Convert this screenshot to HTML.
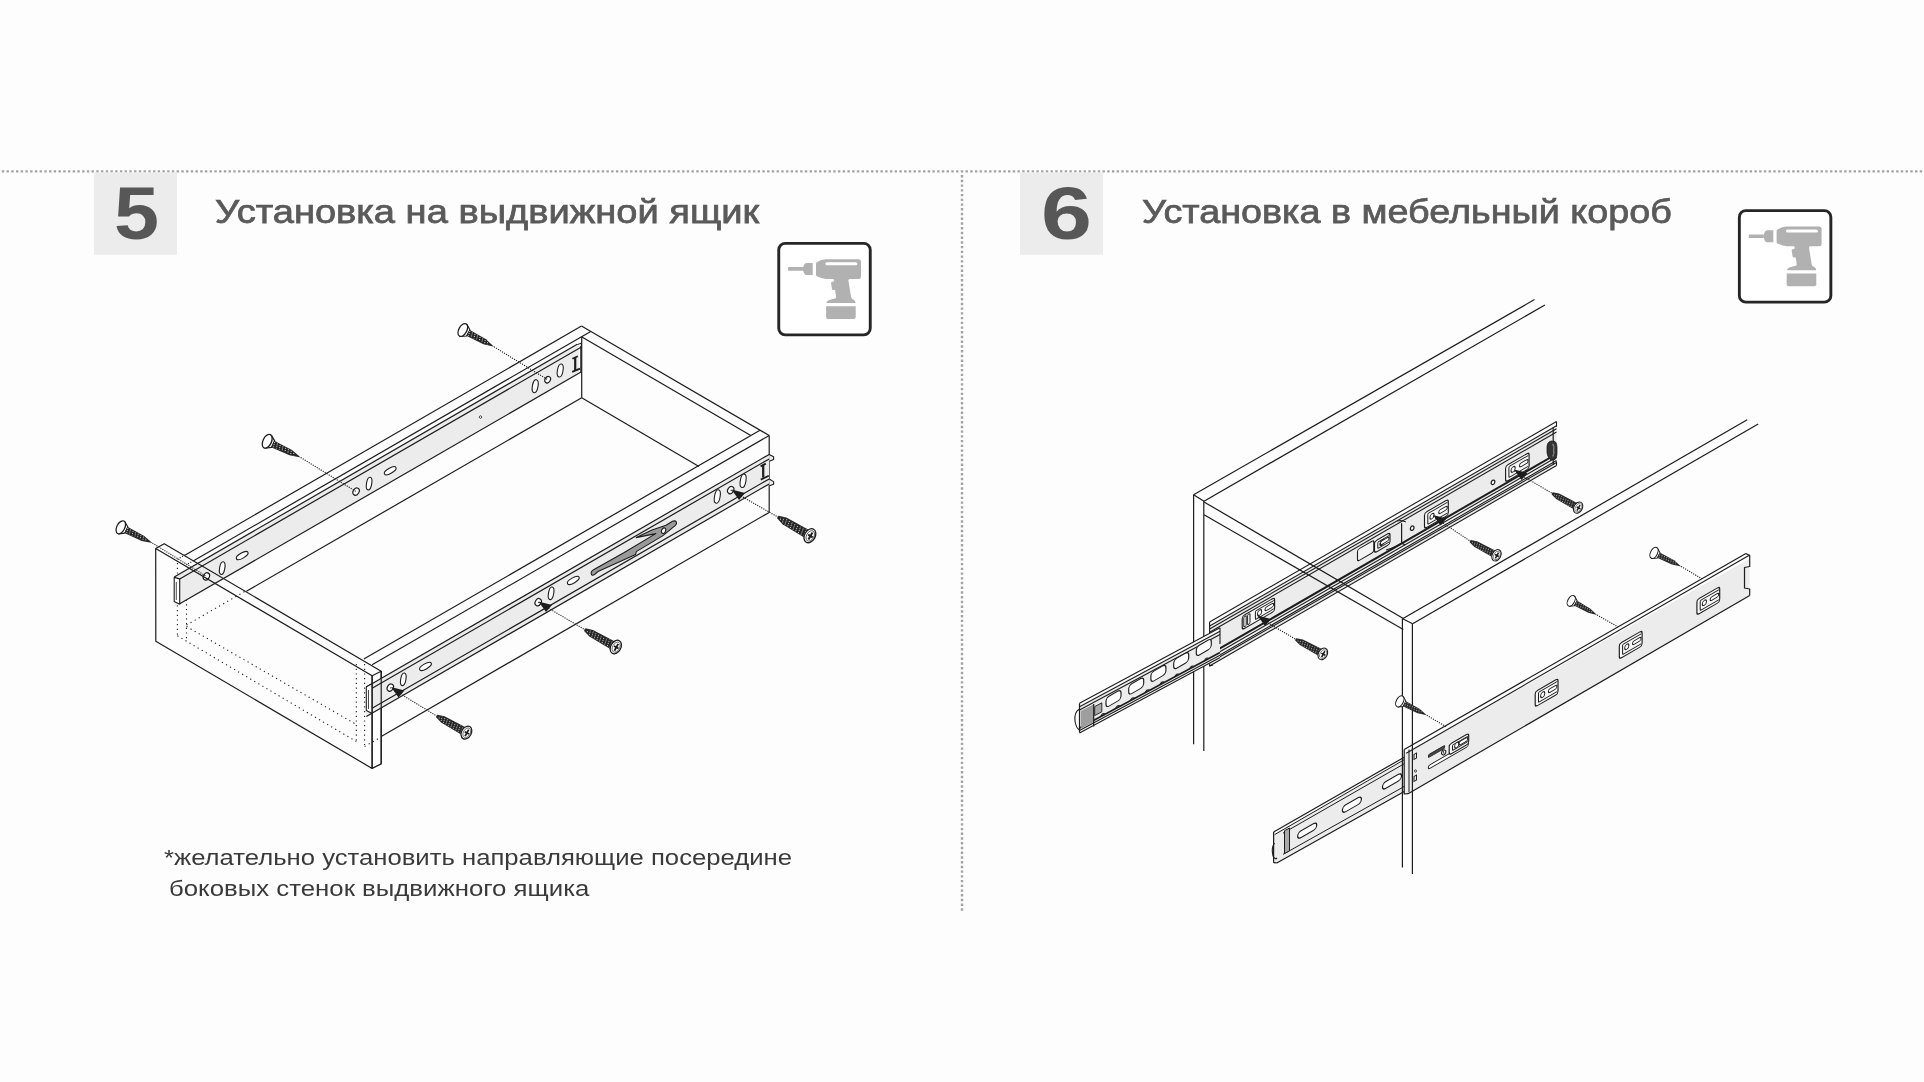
<!DOCTYPE html>
<html><head><meta charset="utf-8"><style>
html,body{margin:0;padding:0;background:#fdfdfd;}
body{width:1924px;height:1082px;position:relative;overflow:hidden;font-family:"Liberation Sans",sans-serif;}
svg{position:absolute;left:0;top:0;}
.num{position:absolute;will-change:transform;font-weight:bold;color:#575757;font-size:75px;line-height:75px;transform-origin:0 0;}
.ttl{position:absolute;will-change:transform;font-weight:normal;-webkit-text-stroke:0.75px #5a5a5a;color:#5a5a5a;font-size:33.5px;line-height:34px;white-space:nowrap;transform-origin:0 0;}
.note{position:absolute;color:#3a3a3a;will-change:transform;font-size:22px;line-height:30.8px;white-space:pre;transform-origin:0 0;}
</style></head><body>
<svg width="1924" height="1082" viewBox="0 0 1924 1082" shape-rendering="geometricPrecision">
<line x1="1.8" y1="171.4" x2="1924" y2="171.4" stroke="#a3a3a3" stroke-width="2.4" stroke-dasharray="2.4 2.324"/>
<line x1="962" y1="175.0" x2="962" y2="911" stroke="#a3a3a3" stroke-width="2.4" stroke-dasharray="2.4 2.331"/>
<rect x="94" y="172.5" width="83" height="82.3" fill="#ebeceb"/>
<rect x="1020" y="172.5" width="83" height="82.3" fill="#ebeceb"/>
<g transform="translate(777.3,241.9)"><rect x="1.45" y="1.45" width="91.5" height="91.5" rx="6.5" ry="6.5" fill="#fff" stroke="#262626" stroke-width="2.9"/><rect x="10.8" y="25.2" width="14.9" height="3.7" rx="0.6" fill="#b0b1b0"/><path d="M25.4,26.2 L27,22.6 Q27.8,21.1 29.3,21.1 L35.4,21.1 L35.4,33.0 L29.3,33.0 Q27.8,33.0 27,31.5 L25.4,27.9 Z" fill="#b0b1b0"/><path d="M38.7,21.6 Q38.7,20.6 40,20 Q44,17.7 48.5,17.3 L81.2,17.3 Q83.7,17.3 83.7,19.8 L83.7,34.5 Q83.7,37.0 81.2,37.0 L72.3,37.0 Q70.9,37.3 71.1,38.6 L73.8,55.2 Q74.2,56.6 75.5,57.3 Q77.7,58.3 78.2,59.9 L78.2,61.0 L49.1,61.0 Q49.1,59.4 51,58.6 Q54.5,57.3 57.9,56.6 Q58.9,56.2 58.8,55.1 L57.8,48.2 L55.6,48.2 Q54.9,48.2 54.7,47.4 L53.7,40.5 L56.2,39.6 Q57,39.3 56.8,38.5 L56.2,37.0 L48.5,37.0 Q44,36.6 40,34.6 Q38.7,34.0 38.7,32.8 Z" fill="#b0b1b0"/><rect x="48.1" y="20.3" width="32" height="3.1" rx="1.5" fill="#fff"/><path d="M48.8,64.3 L78.4,64.3 L78.4,75.0 Q78.4,77.0 76.4,77.0 L50.8,77.0 Q48.8,77.0 48.8,75.0 Z" fill="#b0b1b0"/></g>
<g transform="translate(1737.9,209.2)"><rect x="1.45" y="1.45" width="91.5" height="91.5" rx="6.5" ry="6.5" fill="#fff" stroke="#262626" stroke-width="2.9"/><rect x="10.8" y="25.2" width="14.9" height="3.7" rx="0.6" fill="#b0b1b0"/><path d="M25.4,26.2 L27,22.6 Q27.8,21.1 29.3,21.1 L35.4,21.1 L35.4,33.0 L29.3,33.0 Q27.8,33.0 27,31.5 L25.4,27.9 Z" fill="#b0b1b0"/><path d="M38.7,21.6 Q38.7,20.6 40,20 Q44,17.7 48.5,17.3 L81.2,17.3 Q83.7,17.3 83.7,19.8 L83.7,34.5 Q83.7,37.0 81.2,37.0 L72.3,37.0 Q70.9,37.3 71.1,38.6 L73.8,55.2 Q74.2,56.6 75.5,57.3 Q77.7,58.3 78.2,59.9 L78.2,61.0 L49.1,61.0 Q49.1,59.4 51,58.6 Q54.5,57.3 57.9,56.6 Q58.9,56.2 58.8,55.1 L57.8,48.2 L55.6,48.2 Q54.9,48.2 54.7,47.4 L53.7,40.5 L56.2,39.6 Q57,39.3 56.8,38.5 L56.2,37.0 L48.5,37.0 Q44,36.6 40,34.6 Q38.7,34.0 38.7,32.8 Z" fill="#b0b1b0"/><rect x="48.1" y="20.3" width="32" height="3.1" rx="1.5" fill="#fff"/><path d="M48.8,64.3 L78.4,64.3 L78.4,75.0 Q78.4,77.0 76.4,77.0 L50.8,77.0 Q48.8,77.0 48.8,75.0 Z" fill="#b0b1b0"/></g>
<line x1="177.4" y1="563" x2="177.4" y2="637.5" stroke="#1e1e1e" stroke-width="1.1" stroke-dasharray="1.2 3.5"/>
<line x1="186.5" y1="576" x2="186.5" y2="640" stroke="#1e1e1e" stroke-width="1.1" stroke-dasharray="1.2 3.5"/>
<line x1="177.4" y1="635.8" x2="356.3" y2="741.5" stroke="#1e1e1e" stroke-width="1.1" stroke-dasharray="1.2 3.5"/>
<line x1="186.5" y1="626.5" x2="356.3" y2="724.5" stroke="#1e1e1e" stroke-width="1.1" stroke-dasharray="1.2 3.5"/>
<line x1="356.3" y1="664" x2="356.3" y2="742.5" stroke="#1e1e1e" stroke-width="1.1" stroke-dasharray="1.2 3.5"/>
<line x1="364.6" y1="664" x2="364.6" y2="746.5" stroke="#1e1e1e" stroke-width="1.1" stroke-dasharray="1.2 3.5"/>
<line x1="186.5" y1="625.1" x2="246.4" y2="590.5" stroke="#1e1e1e" stroke-width="1.1" stroke-dasharray="1.2 3.5"/>
<line x1="364.6" y1="746.5" x2="381" y2="737" stroke="#1e1e1e" stroke-width="1.1" stroke-dasharray="1.2 3.5"/>
<line x1="185.3" y1="554.7" x2="177.4" y2="559.3" stroke="#1e1e1e" stroke-width="1.1" stroke-dasharray="1.1 1.6"/>
<line x1="193.6" y1="560.5" x2="186.2" y2="564.8" stroke="#1e1e1e" stroke-width="1.1" stroke-dasharray="1.1 1.6"/>
<line x1="581.5" y1="326.1" x2="769.2" y2="435.5" stroke="#1c1c1c" stroke-width="1.2" />
<line x1="581.5" y1="336.7" x2="750.8" y2="435.5" stroke="#1c1c1c" stroke-width="1.2" />
<line x1="581.7" y1="397.7" x2="699" y2="466.5" stroke="#1c1c1c" stroke-width="1.2" />
<line x1="581.7" y1="336.7" x2="581.7" y2="397.7" stroke="#1c1c1c" stroke-width="1.2" />
<line x1="185.3" y1="554.9" x2="581.5" y2="326.1" stroke="#1c1c1c" stroke-width="1.2" />
<line x1="193.6" y1="560.7" x2="590.7" y2="331.4" stroke="#1c1c1c" stroke-width="1.2" />
<line x1="246.4" y1="591.3" x2="581.7" y2="397.7" stroke="#1c1c1c" stroke-width="1.2" />
<line x1="372.1" y1="664.8" x2="769.2" y2="435.5" stroke="#1c1c1c" stroke-width="1.2" />
<line x1="363.8" y1="659" x2="760" y2="430.2" stroke="#1c1c1c" stroke-width="1.2" />
<line x1="769.2" y1="435.5" x2="769.2" y2="512.4" stroke="#1c1c1c" stroke-width="1.2" />
<line x1="381.2" y1="736.4" x2="769.2" y2="512.4" stroke="#1c1c1c" stroke-width="1.2" />
<polygon points="174.5,576.8 579,343.3 579,373.3 174.5,606.8" fill="#ebeceb" stroke="none"/>
<line x1="174.2" y1="577" x2="577.3" y2="344.2" stroke="#1c1c1c" stroke-width="1.2" />
<line x1="179.7" y1="578.9" x2="581" y2="347.2" stroke="#1c1c1c" stroke-width="1.2" />
<line x1="179.7" y1="603.8" x2="581" y2="372.1" stroke="#1c1c1c" stroke-width="1.2" />
<polygon points="174.2,577.4 174.2,601.5 179.7,604.2 179.7,578.9" fill="#fff" stroke="#1c1c1c" stroke-width="1.1" stroke-linejoin="round" />
<line x1="176.3" y1="582" x2="176.3" y2="600" stroke="#1c1c1c" stroke-width="0.8" />
<line x1="580.8" y1="346" x2="580.8" y2="372.5" stroke="#1c1c1c" stroke-width="1.1" />
<polyline points="577.3,344.6 581.3,343.2 581.3,346.9" fill="none" stroke="#1c1c1c" stroke-width="1.0" stroke-linejoin="round" />
<line x1="575.2" y1="357.6" x2="575.2" y2="370.6" stroke="#1c1c1c" stroke-width="2.2" />
<line x1="572.4" y1="358.8" x2="577.8" y2="356.2" stroke="#1c1c1c" stroke-width="1.8" />
<line x1="572.2" y1="371.8" x2="580" y2="368.6" stroke="#1c1c1c" stroke-width="1.8" />
<ellipse cx="206.4" cy="576.4" rx="2.9" ry="3.8" transform="rotate(30 206.4 576.4)" fill="#fff" stroke="#1c1c1c" stroke-width="1.2"/>
<ellipse cx="222.2" cy="568.1" rx="2.6" ry="6.4" transform="rotate(10 222.2 568.1)" fill="#fff" stroke="#1c1c1c" stroke-width="1.1"/>
<ellipse cx="242.2" cy="555.6" rx="6.6" ry="2.6" transform="rotate(-30 242.2 555.6)" fill="#fff" stroke="#1c1c1c" stroke-width="1.1"/>
<ellipse cx="356.1" cy="491.6" rx="2.9" ry="3.8" transform="rotate(30 356.1 491.6)" fill="#fff" stroke="#1c1c1c" stroke-width="1.2"/>
<ellipse cx="369.1" cy="483.6" rx="2.6" ry="6.4" transform="rotate(10 369.1 483.6)" fill="#fff" stroke="#1c1c1c" stroke-width="1.1"/>
<ellipse cx="390.2" cy="470.8" rx="6.6" ry="2.6" transform="rotate(-30 390.2 470.8)" fill="#fff" stroke="#1c1c1c" stroke-width="1.1"/>
<ellipse cx="547.7" cy="379.7" rx="2.6" ry="3.4" transform="rotate(30 547.7 379.7)" fill="#fff" stroke="#1c1c1c" stroke-width="1.2"/>
<ellipse cx="560.2" cy="370.5" rx="2.8" ry="6.6" transform="rotate(10 560.2 370.5)" fill="#fff" stroke="#1c1c1c" stroke-width="1.1"/>
<ellipse cx="535.2" cy="386.2" rx="2.8" ry="6.6" transform="rotate(10 535.2 386.2)" fill="#fff" stroke="#1c1c1c" stroke-width="1.1"/>
<ellipse cx="480.5" cy="417.1" rx="1.2" ry="1.2" transform="rotate(45 480.5 417.1)" fill="#fff" stroke="#1c1c1c" stroke-width="0.8"/>
<polygon points="155.7,548.5 372.1,675.7 372.1,768.4 155.8,641.3" fill="none" stroke="#1c1c1c" stroke-width="1.2" stroke-linejoin="round" />
<polyline points="155.7,548.5 164.2,543.7 381.2,671.2 372.1,675.7" fill="none" stroke="#1c1c1c" stroke-width="1.2" stroke-linejoin="round" />
<polyline points="381.2,671.2 381.2,763.9 372.1,768.4" fill="none" stroke="#1c1c1c" stroke-width="1.2" stroke-linejoin="round" />
<polygon points="366,687.2 769.2,454.4 769.2,483.9 366,716.7" fill="#ebeceb" stroke="none"/>
<line x1="366.3" y1="687" x2="769.2" y2="454.4" stroke="#1c1c1c" stroke-width="1.2" />
<line x1="372.1" y1="688.2" x2="769.2" y2="458.9" stroke="#1c1c1c" stroke-width="1.2" />
<line x1="372.1" y1="708.2" x2="769.2" y2="478.9" stroke="#1c1c1c" stroke-width="1.2" />
<line x1="366.3" y1="716.5" x2="769.2" y2="483.9" stroke="#1c1c1c" stroke-width="1.2" />
<polyline points="769.2,454.5 773.6,456.8 773.6,459.5 769.5,461.2" fill="#ebeceb" stroke="#1c1c1c" stroke-width="1.1" stroke-linejoin="round" />
<polyline points="769.2,479 773.6,481.6 773.6,484.2 769.5,485.8" fill="#ebeceb" stroke="#1c1c1c" stroke-width="1.1" stroke-linejoin="round" />
<line x1="763.2" y1="464.8" x2="763.2" y2="477.6" stroke="#1c1c1c" stroke-width="2.2" />
<line x1="760.6" y1="466.4" x2="765.8" y2="463.6" stroke="#1c1c1c" stroke-width="1.8" />
<line x1="760.8" y1="479.6" x2="768.8" y2="475.8" stroke="#1c1c1c" stroke-width="1.8" />
<polygon points="366.3,686.8 366.3,710.5 372.1,713.4 372.1,683.7" fill="#fff" stroke="#1c1c1c" stroke-width="1.1" stroke-linejoin="round" />
<line x1="368.5" y1="690" x2="368.5" y2="709" stroke="#1c1c1c" stroke-width="0.8" />
<line x1="372.1" y1="675.7" x2="372.1" y2="768.4" stroke="#1c1c1c" stroke-width="1.2" />
<line x1="381.2" y1="671.2" x2="381.2" y2="763.9" stroke="#1c1c1c" stroke-width="1.2" />
<ellipse cx="425.5" cy="666.4" rx="6.6" ry="2.6" transform="rotate(-30 425.5 666.4)" fill="#fff" stroke="#1c1c1c" stroke-width="1.1"/>
<ellipse cx="403.3" cy="679.3" rx="2.6" ry="6.4" transform="rotate(10 403.3 679.3)" fill="#fff" stroke="#1c1c1c" stroke-width="1.1"/>
<ellipse cx="390.3" cy="687.6" rx="2.9" ry="3.8" transform="rotate(30 390.3 687.6)" fill="#fff" stroke="#1c1c1c" stroke-width="1.2"/>
<ellipse cx="573.3" cy="580.4" rx="6.6" ry="2.6" transform="rotate(-30 573.3 580.4)" fill="#fff" stroke="#1c1c1c" stroke-width="1.1"/>
<ellipse cx="551.1" cy="593.3" rx="2.6" ry="6.4" transform="rotate(10 551.1 593.3)" fill="#fff" stroke="#1c1c1c" stroke-width="1.1"/>
<ellipse cx="538.2" cy="602.2" rx="2.9" ry="3.8" transform="rotate(30 538.2 602.2)" fill="#fff" stroke="#1c1c1c" stroke-width="1.2"/>
<ellipse cx="743.1" cy="480.8" rx="2.8" ry="6.8" transform="rotate(10 743.1 480.8)" fill="#fff" stroke="#1c1c1c" stroke-width="1.1"/>
<ellipse cx="717.3" cy="496.5" rx="2.8" ry="6.8" transform="rotate(10 717.3 496.5)" fill="#fff" stroke="#1c1c1c" stroke-width="1.1"/>
<ellipse cx="730.7" cy="490.1" rx="2.9" ry="3.8" transform="rotate(30 730.7 490.1)" fill="#fff" stroke="#1c1c1c" stroke-width="1.2"/>
<path d="M591.8,575 C590.3,573 591.3,570.6 594,569.5 L623.8,552.7 L655.8,533.6 L641,536.6 L636.3,537.6 L652,530 L666,525.2 L672.5,521.3 C676.8,519.8 677.4,523.2 675.4,525.3 L662.6,535.9 L636.3,551.6 L635.6,554.6 L598,571.5 C596,573.6 594,576 591.8,575 Z" fill="#9a9a9a" stroke="#1c1c1c" stroke-width="1.1" stroke-linejoin="round"/>
<ellipse cx="663.6" cy="530.7" rx="2.0" ry="2.9" transform="rotate(25 663.6 530.7)" fill="#fff" stroke="#1c1c1c" stroke-width="1.1"/>
<line x1="152.4" y1="543.1" x2="206.4" y2="576.4" stroke="#1e1e1e" stroke-width="1.1" stroke-dasharray="1.15 1.2"/>
<line x1="300.7" y1="457.5" x2="356.1" y2="491.6" stroke="#1e1e1e" stroke-width="1.1" stroke-dasharray="1.15 1.2"/>
<line x1="494" y1="346.8" x2="547.7" y2="379.7" stroke="#1e1e1e" stroke-width="1.1" stroke-dasharray="1.15 1.2"/>
<g transform="translate(120.8,527.3) rotate(26.6) scale(0.955)"><path d="M1.2,-7.1 L6.5,-3.6 L6.5,3.6 L1.2,7.1 Z" fill="#fff" stroke="#1c1c1c" stroke-width="1.2" stroke-linejoin="round"/><path d="M6,-3.6 L26,-2.9 L37,0 L26,2.9 L6,3.6 Z" fill="#262626"/><line x1="7.0" y1="-2.6" x2="8.2" y2="2.6" stroke="#fff" stroke-width="0.8" stroke-dasharray="1.1 1.1" opacity="0.9"/><line x1="10.1" y1="-2.5" x2="11.3" y2="2.5" stroke="#fff" stroke-width="0.8" stroke-dasharray="1.1 1.1" opacity="0.9"/><line x1="13.2" y1="-2.4" x2="14.4" y2="2.4" stroke="#fff" stroke-width="0.8" stroke-dasharray="1.1 1.1" opacity="0.9"/><line x1="16.3" y1="-2.3" x2="17.5" y2="2.3" stroke="#fff" stroke-width="0.8" stroke-dasharray="1.1 1.1" opacity="0.9"/><line x1="19.4" y1="-2.2" x2="20.6" y2="2.2" stroke="#fff" stroke-width="0.8" stroke-dasharray="1.1 1.1" opacity="0.9"/><line x1="22.5" y1="-2.1" x2="23.7" y2="2.1" stroke="#fff" stroke-width="0.8" stroke-dasharray="1.1 1.1" opacity="0.9"/><line x1="25.6" y1="-1.9" x2="26.8" y2="1.9" stroke="#fff" stroke-width="0.8" stroke-dasharray="1.1 1.1" opacity="0.9"/><line x1="28.7" y1="-1.1" x2="29.9" y2="1.1" stroke="#fff" stroke-width="0.8" stroke-dasharray="1.1 1.1" opacity="0.9"/><ellipse cx="0" cy="0" rx="4.2" ry="7.3" fill="#fff" stroke="#1c1c1c" stroke-width="1.3"/></g>
<g transform="translate(267.2,441.3) rotate(25.8) scale(1.006)"><path d="M1.2,-7.1 L6.5,-3.6 L6.5,3.6 L1.2,7.1 Z" fill="#fff" stroke="#1c1c1c" stroke-width="1.2" stroke-linejoin="round"/><path d="M6,-3.6 L26,-2.9 L37,0 L26,2.9 L6,3.6 Z" fill="#262626"/><line x1="7.0" y1="-2.6" x2="8.2" y2="2.6" stroke="#fff" stroke-width="0.8" stroke-dasharray="1.1 1.1" opacity="0.9"/><line x1="10.1" y1="-2.5" x2="11.3" y2="2.5" stroke="#fff" stroke-width="0.8" stroke-dasharray="1.1 1.1" opacity="0.9"/><line x1="13.2" y1="-2.4" x2="14.4" y2="2.4" stroke="#fff" stroke-width="0.8" stroke-dasharray="1.1 1.1" opacity="0.9"/><line x1="16.3" y1="-2.3" x2="17.5" y2="2.3" stroke="#fff" stroke-width="0.8" stroke-dasharray="1.1 1.1" opacity="0.9"/><line x1="19.4" y1="-2.2" x2="20.6" y2="2.2" stroke="#fff" stroke-width="0.8" stroke-dasharray="1.1 1.1" opacity="0.9"/><line x1="22.5" y1="-2.1" x2="23.7" y2="2.1" stroke="#fff" stroke-width="0.8" stroke-dasharray="1.1 1.1" opacity="0.9"/><line x1="25.6" y1="-1.9" x2="26.8" y2="1.9" stroke="#fff" stroke-width="0.8" stroke-dasharray="1.1 1.1" opacity="0.9"/><line x1="28.7" y1="-1.1" x2="29.9" y2="1.1" stroke="#fff" stroke-width="0.8" stroke-dasharray="1.1 1.1" opacity="0.9"/><ellipse cx="0" cy="0" rx="4.2" ry="7.3" fill="#fff" stroke="#1c1c1c" stroke-width="1.3"/></g>
<g transform="translate(462.8,330) rotate(28.3) scale(0.958)"><path d="M1.2,-7.1 L6.5,-3.6 L6.5,3.6 L1.2,7.1 Z" fill="#fff" stroke="#1c1c1c" stroke-width="1.2" stroke-linejoin="round"/><path d="M6,-3.6 L26,-2.9 L37,0 L26,2.9 L6,3.6 Z" fill="#262626"/><line x1="7.0" y1="-2.6" x2="8.2" y2="2.6" stroke="#fff" stroke-width="0.8" stroke-dasharray="1.1 1.1" opacity="0.9"/><line x1="10.1" y1="-2.5" x2="11.3" y2="2.5" stroke="#fff" stroke-width="0.8" stroke-dasharray="1.1 1.1" opacity="0.9"/><line x1="13.2" y1="-2.4" x2="14.4" y2="2.4" stroke="#fff" stroke-width="0.8" stroke-dasharray="1.1 1.1" opacity="0.9"/><line x1="16.3" y1="-2.3" x2="17.5" y2="2.3" stroke="#fff" stroke-width="0.8" stroke-dasharray="1.1 1.1" opacity="0.9"/><line x1="19.4" y1="-2.2" x2="20.6" y2="2.2" stroke="#fff" stroke-width="0.8" stroke-dasharray="1.1 1.1" opacity="0.9"/><line x1="22.5" y1="-2.1" x2="23.7" y2="2.1" stroke="#fff" stroke-width="0.8" stroke-dasharray="1.1 1.1" opacity="0.9"/><line x1="25.6" y1="-1.9" x2="26.8" y2="1.9" stroke="#fff" stroke-width="0.8" stroke-dasharray="1.1 1.1" opacity="0.9"/><line x1="28.7" y1="-1.1" x2="29.9" y2="1.1" stroke="#fff" stroke-width="0.8" stroke-dasharray="1.1 1.1" opacity="0.9"/><ellipse cx="0" cy="0" rx="4.2" ry="7.3" fill="#fff" stroke="#1c1c1c" stroke-width="1.3"/></g>
<line x1="730.7" y1="490.1" x2="777.4" y2="516.8" stroke="#1e1e1e" stroke-width="1.1" stroke-dasharray="1.15 1.2"/>
<line x1="538.2" y1="602.2" x2="584.4" y2="629.4" stroke="#1e1e1e" stroke-width="1.1" stroke-dasharray="1.15 1.2"/>
<line x1="390.3" y1="687.6" x2="436.3" y2="715.8" stroke="#1e1e1e" stroke-width="1.1" stroke-dasharray="1.15 1.2"/>
<g transform="translate(809.9,535.7) rotate(-149.8) scale(1.016)"><path d="M3,-4.5 L29,-3.8 L36.5,-1.5 Q37.3,0 36.5,1.5 L29,3.8 L3,4.5 Z" fill="#262626"/><line x1="5.0" y1="-3.6" x2="6.2" y2="3.6" stroke="#fff" stroke-width="0.8" stroke-dasharray="1.1 1.1" opacity="0.9"/><line x1="8.1" y1="-3.5" x2="9.3" y2="3.5" stroke="#fff" stroke-width="0.8" stroke-dasharray="1.1 1.1" opacity="0.9"/><line x1="11.2" y1="-3.4" x2="12.4" y2="3.4" stroke="#fff" stroke-width="0.8" stroke-dasharray="1.1 1.1" opacity="0.9"/><line x1="14.3" y1="-3.3" x2="15.5" y2="3.3" stroke="#fff" stroke-width="0.8" stroke-dasharray="1.1 1.1" opacity="0.9"/><line x1="17.4" y1="-3.2" x2="18.6" y2="3.2" stroke="#fff" stroke-width="0.8" stroke-dasharray="1.1 1.1" opacity="0.9"/><line x1="20.5" y1="-3.1" x2="21.7" y2="3.1" stroke="#fff" stroke-width="0.8" stroke-dasharray="1.1 1.1" opacity="0.9"/><line x1="23.6" y1="-3.0" x2="24.8" y2="3.0" stroke="#fff" stroke-width="0.8" stroke-dasharray="1.1 1.1" opacity="0.9"/><line x1="26.7" y1="-2.9" x2="27.9" y2="2.9" stroke="#fff" stroke-width="0.8" stroke-dasharray="1.1 1.1" opacity="0.9"/><line x1="29.8" y1="-2.3" x2="31.0" y2="2.3" stroke="#fff" stroke-width="0.8" stroke-dasharray="1.1 1.1" opacity="0.9"/><line x1="32.9" y1="-1.0" x2="34.1" y2="1.0" stroke="#fff" stroke-width="0.8" stroke-dasharray="1.1 1.1" opacity="0.9"/><ellipse cx="0" cy="0" rx="5.2" ry="7.4" fill="#fff" stroke="#1c1c1c" stroke-width="1.3"/><ellipse cx="-0.4" cy="0" rx="3.6" ry="5.6" fill="none" stroke="#1c1c1c" stroke-width="0.6"/><path d="M-0.6,-4 L-0.6,4 M-3.2,0 L2.0,0" stroke="#1c1c1c" stroke-width="1.9"/></g>
<g transform="translate(615.8,647) rotate(-150.7) scale(0.973)"><path d="M3,-4.5 L29,-3.8 L36.5,-1.5 Q37.3,0 36.5,1.5 L29,3.8 L3,4.5 Z" fill="#262626"/><line x1="5.0" y1="-3.6" x2="6.2" y2="3.6" stroke="#fff" stroke-width="0.8" stroke-dasharray="1.1 1.1" opacity="0.9"/><line x1="8.1" y1="-3.5" x2="9.3" y2="3.5" stroke="#fff" stroke-width="0.8" stroke-dasharray="1.1 1.1" opacity="0.9"/><line x1="11.2" y1="-3.4" x2="12.4" y2="3.4" stroke="#fff" stroke-width="0.8" stroke-dasharray="1.1 1.1" opacity="0.9"/><line x1="14.3" y1="-3.3" x2="15.5" y2="3.3" stroke="#fff" stroke-width="0.8" stroke-dasharray="1.1 1.1" opacity="0.9"/><line x1="17.4" y1="-3.2" x2="18.6" y2="3.2" stroke="#fff" stroke-width="0.8" stroke-dasharray="1.1 1.1" opacity="0.9"/><line x1="20.5" y1="-3.1" x2="21.7" y2="3.1" stroke="#fff" stroke-width="0.8" stroke-dasharray="1.1 1.1" opacity="0.9"/><line x1="23.6" y1="-3.0" x2="24.8" y2="3.0" stroke="#fff" stroke-width="0.8" stroke-dasharray="1.1 1.1" opacity="0.9"/><line x1="26.7" y1="-2.9" x2="27.9" y2="2.9" stroke="#fff" stroke-width="0.8" stroke-dasharray="1.1 1.1" opacity="0.9"/><line x1="29.8" y1="-2.3" x2="31.0" y2="2.3" stroke="#fff" stroke-width="0.8" stroke-dasharray="1.1 1.1" opacity="0.9"/><line x1="32.9" y1="-1.0" x2="34.1" y2="1.0" stroke="#fff" stroke-width="0.8" stroke-dasharray="1.1 1.1" opacity="0.9"/><ellipse cx="0" cy="0" rx="5.2" ry="7.4" fill="#fff" stroke="#1c1c1c" stroke-width="1.3"/><ellipse cx="-0.4" cy="0" rx="3.6" ry="5.6" fill="none" stroke="#1c1c1c" stroke-width="0.6"/><path d="M-0.6,-4 L-0.6,4 M-3.2,0 L2.0,0" stroke="#1c1c1c" stroke-width="1.9"/></g>
<g transform="translate(466.4,732.6) rotate(-150.8) scale(0.932)"><path d="M3,-4.5 L29,-3.8 L36.5,-1.5 Q37.3,0 36.5,1.5 L29,3.8 L3,4.5 Z" fill="#262626"/><line x1="5.0" y1="-3.6" x2="6.2" y2="3.6" stroke="#fff" stroke-width="0.8" stroke-dasharray="1.1 1.1" opacity="0.9"/><line x1="8.1" y1="-3.5" x2="9.3" y2="3.5" stroke="#fff" stroke-width="0.8" stroke-dasharray="1.1 1.1" opacity="0.9"/><line x1="11.2" y1="-3.4" x2="12.4" y2="3.4" stroke="#fff" stroke-width="0.8" stroke-dasharray="1.1 1.1" opacity="0.9"/><line x1="14.3" y1="-3.3" x2="15.5" y2="3.3" stroke="#fff" stroke-width="0.8" stroke-dasharray="1.1 1.1" opacity="0.9"/><line x1="17.4" y1="-3.2" x2="18.6" y2="3.2" stroke="#fff" stroke-width="0.8" stroke-dasharray="1.1 1.1" opacity="0.9"/><line x1="20.5" y1="-3.1" x2="21.7" y2="3.1" stroke="#fff" stroke-width="0.8" stroke-dasharray="1.1 1.1" opacity="0.9"/><line x1="23.6" y1="-3.0" x2="24.8" y2="3.0" stroke="#fff" stroke-width="0.8" stroke-dasharray="1.1 1.1" opacity="0.9"/><line x1="26.7" y1="-2.9" x2="27.9" y2="2.9" stroke="#fff" stroke-width="0.8" stroke-dasharray="1.1 1.1" opacity="0.9"/><line x1="29.8" y1="-2.3" x2="31.0" y2="2.3" stroke="#fff" stroke-width="0.8" stroke-dasharray="1.1 1.1" opacity="0.9"/><line x1="32.9" y1="-1.0" x2="34.1" y2="1.0" stroke="#fff" stroke-width="0.8" stroke-dasharray="1.1 1.1" opacity="0.9"/><ellipse cx="0" cy="0" rx="5.2" ry="7.4" fill="#fff" stroke="#1c1c1c" stroke-width="1.3"/><ellipse cx="-0.4" cy="0" rx="3.6" ry="5.6" fill="none" stroke="#1c1c1c" stroke-width="0.6"/><path d="M-0.6,-4 L-0.6,4 M-3.2,0 L2.0,0" stroke="#1c1c1c" stroke-width="1.9"/></g>
<path d="M731.5,489.5 L745,493 L739,500 Z" fill="#1c1c1c"/>
<path d="M538.5,601.5 L552,605 L546,612 Z" fill="#1c1c1c"/>
<path d="M391,687 L404.5,690.5 L398.5,697.5 Z" fill="#1c1c1c"/>
<line x1="1193.6" y1="494.8" x2="1534.5" y2="299.6" stroke="#1c1c1c" stroke-width="1.2" />
<line x1="1204" y1="501.2" x2="1544.9" y2="305" stroke="#1c1c1c" stroke-width="1.2" />
<line x1="1193.6" y1="494.8" x2="1204" y2="501.2" stroke="#1c1c1c" stroke-width="1.2" />
<line x1="1193.6" y1="494.8" x2="1193.6" y2="744.2" stroke="#1c1c1c" stroke-width="1.2" />
<line x1="1203.8" y1="501.2" x2="1203.8" y2="750.9" stroke="#1c1c1c" stroke-width="1.2" />
<line x1="1402.6" y1="618.8" x2="1747.2" y2="419.8" stroke="#1c1c1c" stroke-width="1.2" />
<line x1="1412.6" y1="623.8" x2="1758.2" y2="424" stroke="#1c1c1c" stroke-width="1.2" />
<line x1="1402.6" y1="618.8" x2="1412.6" y2="623.8" stroke="#1c1c1c" stroke-width="1.2" />
<polygon points="1209.6,621.9 1556.5,421.6 1556.5,465.6 1209.6,665.9" fill="#ebeceb" stroke="none"/>
<polygon points="1209.6,621.9 1556.5,421.6 1556.5,425.8 1209.6,626.1" fill="#fff" stroke="none"/>
<polygon points="1216,654 1556.5,457.3 1556.5,462.4 1216,659.1" fill="#f6f6f6" stroke="none"/>
<line x1="1209.6" y1="621.9" x2="1556.5" y2="421.6" stroke="#1c1c1c" stroke-width="1.1" />
<line x1="1209.6" y1="626.1" x2="1556.5" y2="425.8" stroke="#1c1c1c" stroke-width="1.1" />
<line x1="1209.6" y1="629.1" x2="1556.5" y2="428.8" stroke="#1c1c1c" stroke-width="1.1" />
<line x1="1209.6" y1="632.3" x2="1556.5" y2="432" stroke="#1c1c1c" stroke-width="1.1" />
<line x1="1216" y1="650.7" x2="1556.5" y2="454" stroke="#1c1c1c" stroke-width="2.0" />
<line x1="1216" y1="654" x2="1556.5" y2="457.3" stroke="#1c1c1c" stroke-width="1.1" />
<line x1="1216" y1="657.2" x2="1556.5" y2="460.5" stroke="#1c1c1c" stroke-width="1.1" />
<line x1="1209.6" y1="662.7" x2="1556.5" y2="462.4" stroke="#1c1c1c" stroke-width="1.1" />
<line x1="1209.6" y1="665.9" x2="1556.5" y2="465.6" stroke="#1c1c1c" stroke-width="1.1" />
<polyline points="1209.6,621.9 1209.6,633.8 1212.5,632.2" fill="none" stroke="#1c1c1c" stroke-width="1.1" stroke-linejoin="round" />
<polyline points="1209.6,661.7 1209.6,665.9 1213,665" fill="none" stroke="#1c1c1c" stroke-width="1.1" stroke-linejoin="round" />
<line x1="1553.2" y1="427.8" x2="1553.2" y2="464.4" stroke="#1c1c1c" stroke-width="1.2" />
<line x1="1556.5" y1="421.6" x2="1556.5" y2="426.8" stroke="#1c1c1c" stroke-width="1.1" />
<line x1="1556.5" y1="461.4" x2="1556.5" y2="465.6" stroke="#1c1c1c" stroke-width="1.1" />
<path d="M1547,449 Q1546.5,442 1551,441 L1555,441.5 Q1557.2,443 1557,450 Q1557.2,458 1555,459.5 L1551,460 Q1546.5,457 1547,449 Z" fill="#333" stroke="#1c1c1c" stroke-width="0.8"/>
<path d="M1552.5,444 Q1554.6,446 1553.6,450 Q1554.6,454 1552.5,456.5" fill="none" stroke="#888" stroke-width="1.2"/>
<line x1="1401.6" y1="523.3" x2="1401.6" y2="543.2" stroke="#1c1c1c" stroke-width="1.2" />
<polyline points="1397,521 1401.6,520.5 1406,522" fill="none" stroke="#1c1c1c" stroke-width="1" stroke-linejoin="round" />
<path d="M1386,550 Q1396,547 1401.6,543.2 L1405.5,545" fill="none" stroke="#1c1c1c" stroke-width="1.1"/>
<polygon points="1079.5,703.3 1220,627.8 1220,657.6 1079.5,733" fill="#ebeceb" stroke="none"/>
<polygon points="1079.5,703.3 1220,627.8 1220,631.3 1079.5,706.8" fill="#fff" stroke="none"/>
<polygon points="1079.5,730.6 1220,655.2 1220,657.6 1079.5,733" fill="#fff" stroke="none"/>
<line x1="1079.5" y1="703.3" x2="1220" y2="627.8" stroke="#1c1c1c" stroke-width="1.1" />
<line x1="1079.5" y1="706.8" x2="1220" y2="631.3" stroke="#1c1c1c" stroke-width="1.1" />
<line x1="1079.5" y1="710" x2="1220" y2="634.5" stroke="#1c1c1c" stroke-width="1.1" />
<line x1="1079.5" y1="728" x2="1220" y2="652.5" stroke="#1c1c1c" stroke-width="1.6" />
<line x1="1079.5" y1="730.6" x2="1220" y2="655.2" stroke="#1c1c1c" stroke-width="1.1" />
<line x1="1079.5" y1="733" x2="1220" y2="657.6" stroke="#1c1c1c" stroke-width="1.1" />
<line x1="1079.5" y1="703.3" x2="1079.5" y2="732.5" stroke="#1c1c1c" stroke-width="1.2" />
<line x1="1220" y1="627.8" x2="1220" y2="644" stroke="#1c1c1c" stroke-width="1.1" />
<polygon points="1080.8,711 1093.7,704.3 1093.7,722.3 1080.8,728" fill="#9e9e9e" stroke="none"/>
<line x1="1093.7" y1="704" x2="1093.7" y2="726.5" stroke="#1c1c1c" stroke-width="1.2" />
<polygon points="1094.7,706.6 1101.8,702.8 1101.8,711.8 1094.7,715.6" fill="#a8a8a8" stroke="none"/>
<polygon points="1094.7,706.6 1101.8,702.8 1101.8,711.8 1094.7,715.6" fill="none" stroke="#1c1c1c" stroke-width="0.9" stroke-linejoin="round" />
<path d="M1079.5,709 Q1074,712 1075,721 Q1076,728 1079.5,730" fill="none" stroke="#1c1c1c" stroke-width="1.1"/>
<path d="M1100.6,716.7 Q1102.5,712.2 1105.4,714.1" fill="none" stroke="#1c1c1c" stroke-width="1.1"/>
<path d="M1115.4,708.8 Q1117.3,704.3 1120.2,706.2" fill="none" stroke="#1c1c1c" stroke-width="1.1"/>
<path d="M1130.2,700.9 Q1132.1,696.4 1135,698.3" fill="none" stroke="#1c1c1c" stroke-width="1.1"/>
<path d="M1145,692.9 Q1146.9,688.4 1149.8,690.3" fill="none" stroke="#1c1c1c" stroke-width="1.1"/>
<path d="M1159.8,685 Q1161.7,680.5 1164.6,682.4" fill="none" stroke="#1c1c1c" stroke-width="1.1"/>
<path d="M1174.6,677.1 Q1176.5,672.6 1179.4,674.5" fill="none" stroke="#1c1c1c" stroke-width="1.1"/>
<path d="M1189.4,669.2 Q1191.3,664.7 1194.2,666.6" fill="none" stroke="#1c1c1c" stroke-width="1.1"/>
<path d="M1204.2,661.2 Q1206.1,656.7 1209,658.6" fill="none" stroke="#1c1c1c" stroke-width="1.1"/>
<g transform="matrix(1,-0.5774,0,1,1106,702.9)"><rect x="0" y="-4.9" width="15" height="9.8" rx="3.2" fill="#fff" stroke="#1c1c1c" stroke-width="1.15"/></g>
<g transform="matrix(1,-0.5774,0,1,1128.7,690.4)"><rect x="0" y="-4.9" width="15" height="9.8" rx="3.2" fill="#fff" stroke="#1c1c1c" stroke-width="1.15"/></g>
<g transform="matrix(1,-0.5774,0,1,1150.9,677.7)"><rect x="0" y="-4.9" width="15" height="9.8" rx="3.2" fill="#fff" stroke="#1c1c1c" stroke-width="1.15"/></g>
<g transform="matrix(1,-0.5774,0,1,1173.7,665)"><rect x="0" y="-4.9" width="15" height="9.8" rx="3.2" fill="#fff" stroke="#1c1c1c" stroke-width="1.15"/></g>
<g transform="matrix(1,-0.5774,0,1,1196.3,651.8)"><rect x="0" y="-4.9" width="15" height="9.8" rx="3.2" fill="#fff" stroke="#1c1c1c" stroke-width="1.15"/></g>
<line x1="1204" y1="501.9" x2="1403.3" y2="618.6" stroke="#1c1c1c" stroke-width="1.2" />
<line x1="1204" y1="514.8" x2="1403.3" y2="629.4" stroke="#1c1c1c" stroke-width="1.2" />
<g transform="matrix(1,-0.5774,0,1,1242.2,616.2)"><rect x="0" y="0" width="32.4" height="13.5" rx="2.4" ry="2.4" fill="#f7f7f7" stroke="#1c1c1c" stroke-width="1.15"/><rect x="1.6" y="1.6" width="2.4" height="10.3" rx="1.2" fill="#fff" stroke="#1c1c1c" stroke-width="1"/><rect x="5.4" y="1.6" width="2.4" height="10.3" rx="1.2" fill="#fff" stroke="#1c1c1c" stroke-width="1"/><path d="M31.6,2.6 L14.2,2.6 Q13.2,2.6 13.2,3.6 L13.2,9.9 Q13.2,10.9 14.2,10.9 L31.6,10.9" fill="none" stroke="#1c1c1c" stroke-width="1"/><ellipse cx="17.4" cy="6.5" rx="2.1" ry="2.6" fill="#fff" stroke="#1c1c1c" stroke-width="1"/><rect x="22.8" y="4.7" width="8.6" height="3.6" rx="1.8" fill="#fff" stroke="#1c1c1c" stroke-width="1"/></g>
<g transform="matrix(1,-0.5774,0,1,1357.5,549.6)"><rect x="0" y="0" width="16.3" height="11.8" rx="2" fill="#f4f4f4" stroke="#1c1c1c" stroke-width="1.1"/></g>
<g transform="matrix(1,-0.5774,0,1,1374.5,541.5)"><rect x="0" y="0" width="15.5" height="11.5" rx="2.4" ry="2.4" fill="#f7f7f7" stroke="#1c1c1c" stroke-width="1.15"/><path d="M14.7,2.6 L4.3,2.6 Q3.3,2.6 3.3,3.6 L3.3,7.9 Q3.3,8.9 4.3,8.9 L14.7,8.9" fill="none" stroke="#1c1c1c" stroke-width="1"/><ellipse cx="7.5" cy="5.5" rx="2.1" ry="2.6" fill="#fff" stroke="#1c1c1c" stroke-width="1"/><rect x="5.9" y="3.6" width="8.6" height="3.6" rx="1.8" fill="#fff" stroke="#1c1c1c" stroke-width="1"/></g>
<g transform="matrix(1,-0.5774,0,1,1424.5,513)"><rect x="0" y="0" width="23.8" height="15.8" rx="2.4" ry="2.4" fill="#f7f7f7" stroke="#1c1c1c" stroke-width="1.15"/><path d="M23.0,2.6 L4.3,2.6 Q3.3,2.6 3.3,3.6 L3.3,12.2 Q3.3,13.2 4.3,13.2 L23.0,13.2" fill="none" stroke="#1c1c1c" stroke-width="1"/><ellipse cx="7.5" cy="7.6" rx="2.1" ry="2.6" fill="#fff" stroke="#1c1c1c" stroke-width="1"/><rect x="14.2" y="5.8" width="8.6" height="3.6" rx="1.8" fill="#fff" stroke="#1c1c1c" stroke-width="1"/></g>
<g transform="matrix(1,-0.5774,0,1,1505.6,466)"><rect x="0" y="0" width="23.5" height="16.0" rx="2.4" ry="2.4" fill="#f7f7f7" stroke="#1c1c1c" stroke-width="1.15"/><path d="M22.7,2.6 L4.3,2.6 Q3.3,2.6 3.3,3.6 L3.3,12.4 Q3.3,13.4 4.3,13.4 L22.7,13.4" fill="none" stroke="#1c1c1c" stroke-width="1"/><ellipse cx="7.5" cy="7.7" rx="2.1" ry="2.6" fill="#fff" stroke="#1c1c1c" stroke-width="1"/><rect x="13.9" y="5.9" width="8.6" height="3.6" rx="1.8" fill="#fff" stroke="#1c1c1c" stroke-width="1"/></g>
<ellipse cx="1412.2" cy="528.2" rx="1.7" ry="2.3" transform="rotate(20 1412.2 528.2)" fill="#fff" stroke="#1c1c1c" stroke-width="1.2"/>
<ellipse cx="1493" cy="482.3" rx="1.7" ry="2.3" transform="rotate(20 1493 482.3)" fill="#fff" stroke="#1c1c1c" stroke-width="1.2"/>
<polygon points="1273.6,832.1 1406,756.2 1406,790.5 1276.8,862.9 1273.6,862.7" fill="#ebeceb" stroke="none"/>
<polygon points="1273.6,832.1 1406,756.2 1406,758.7 1273.6,834.6" fill="#fff" stroke="none"/>
<line x1="1273.6" y1="832.1" x2="1406" y2="756.2" stroke="#1c1c1c" stroke-width="1.2" />
<line x1="1274.6" y1="834.6" x2="1406" y2="758.7" stroke="#1c1c1c" stroke-width="1.0" />
<line x1="1283" y1="833.2" x2="1406" y2="762.7" stroke="#1c1c1c" stroke-width="1.0" />
<line x1="1283" y1="854.4" x2="1406" y2="785.5" stroke="#1c1c1c" stroke-width="1.0" />
<line x1="1276.8" y1="862.9" x2="1406" y2="790.5" stroke="#1c1c1c" stroke-width="1.2" />
<line x1="1273.6" y1="832.1" x2="1273.6" y2="862.7" stroke="#1c1c1c" stroke-width="1.2" />
<line x1="1273.6" y1="862.7" x2="1276.8" y2="862.9" stroke="#1c1c1c" stroke-width="1.2" />
<polygon points="1284.5,830.8 1289.5,828 1289.5,850.8 1284.5,853.6" fill="#a9a9a9" stroke="none"/>
<polygon points="1284.5,830.8 1289.5,828 1289.5,850.8 1284.5,853.6" fill="none" stroke="#1c1c1c" stroke-width="1.0" stroke-linejoin="round" />
<path d="M1274.5,843 Q1271,848 1273,856 Q1275,860 1277,858" fill="none" stroke="#1c1c1c" stroke-width="1.1"/>
<g transform="matrix(1,-0.5774,0,1,1297.7,836.1)"><rect x="0" y="-3.4" width="19" height="6.8" rx="3.2" fill="#fff" stroke="#1c1c1c" stroke-width="1.2"/></g>
<g transform="matrix(1,-0.5774,0,1,1342.4,810.2)"><rect x="0" y="-3.4" width="19" height="6.8" rx="3.2" fill="#fff" stroke="#1c1c1c" stroke-width="1.2"/></g>
<g transform="matrix(1,-0.5774,0,1,1382.5,786.9)"><rect x="0" y="-3.4" width="19" height="6.8" rx="3.2" fill="#fff" stroke="#1c1c1c" stroke-width="1.2"/></g>
<polygon points="1404.2,749.6 1745.9,553.5 1749.7,555.5 1749.7,595.6 1408.1,793.7 1404.2,794" fill="#ebeceb" stroke="none"/>
<polygon points="1404.2,749.6 1745.9,553.5 1749.7,556.5 1749.7,558.5 1406.2,753.2" fill="#fff" stroke="none"/>
<line x1="1404.2" y1="749.6" x2="1745.9" y2="553.5" stroke="#1c1c1c" stroke-width="1.2" />
<line x1="1406.2" y1="753.2" x2="1749.7" y2="554.9" stroke="#1c1c1c" stroke-width="1.1" />
<line x1="1408.1" y1="793.7" x2="1749.7" y2="595.6" stroke="#1c1c1c" stroke-width="1.2" />
<polyline points="1745.9,553.5 1749.7,555.5 1749.7,566.5 1744.5,567.5 1744.5,588 1749.7,589 1749.7,595.6" fill="none" stroke="#1c1c1c" stroke-width="1.2" stroke-linejoin="round" />
<polyline points="1404.2,749.6 1404.2,794 1408.1,793.7" fill="none" stroke="#1c1c1c" stroke-width="1.2" stroke-linejoin="round" />
<line x1="1409" y1="749.4" x2="1409" y2="792.2" stroke="#1c1c1c" stroke-width="1.0" />
<g transform="matrix(1,-0.5774,0,1,1414,758.5)"><rect x="0" y="-4" width="2.5" height="5" fill="none" stroke="#1c1c1c" stroke-width="1"/></g>
<g transform="matrix(1,-0.5774,0,1,1414,780.5)"><rect x="0" y="-4" width="2.5" height="5" fill="none" stroke="#1c1c1c" stroke-width="1"/></g>
<ellipse cx="1415.5" cy="771" rx="1" ry="1.2" transform="rotate(0 1415.5 771)" fill="#fff" stroke="#1c1c1c" stroke-width="0.8"/>
<g transform="matrix(1,-0.5774,0,1,1428.3,756.2)"><rect x="0" y="-1.5" width="16.5" height="3" rx="1.5" fill="#444" stroke="#1c1c1c" stroke-width="0.8"/></g>
<g transform="matrix(1,-0.5774,0,1,1428.3,767.5)"><rect x="0" y="-1.8" width="40" height="3.6" rx="1.8" fill="#fff" stroke="#1c1c1c" stroke-width="1"/></g>
<ellipse cx="1443.7" cy="752.4" rx="2.0" ry="2.6" transform="rotate(20 1443.7 752.4)" fill="#fff" stroke="#1c1c1c" stroke-width="1"/>
<line x1="1443.2" y1="750.4" x2="1444.2" y2="754.4" stroke="#1c1c1c" stroke-width="0.8" />
<g transform="matrix(1,-0.5774,0,1,1449.2,744.5)"><rect x="0" y="0" width="19.5" height="10.5" rx="2.4" ry="2.4" fill="#f7f7f7" stroke="#1c1c1c" stroke-width="1.15"/><path d="M18.7,2.6 L4.3,2.6 Q3.3,2.6 3.3,3.6 L3.3,6.9 Q3.3,7.9 4.3,7.9 L18.7,7.9" fill="none" stroke="#1c1c1c" stroke-width="1"/><ellipse cx="7.5" cy="5.0" rx="2.1" ry="2.6" fill="#fff" stroke="#1c1c1c" stroke-width="1"/><rect x="9.9" y="3.1" width="8.6" height="3.6" rx="1.8" fill="#fff" stroke="#1c1c1c" stroke-width="1"/></g>
<g transform="matrix(1,-0.5774,0,1,1535.2,691.7)"><rect x="0" y="0" width="22.8" height="15.2" rx="2.4" ry="2.4" fill="#f7f7f7" stroke="#1c1c1c" stroke-width="1.15"/><path d="M22.0,2.6 L4.3,2.6 Q3.3,2.6 3.3,3.6 L3.3,11.6 Q3.3,12.6 4.3,12.6 L22.0,12.6" fill="none" stroke="#1c1c1c" stroke-width="1"/><ellipse cx="7.5" cy="7.3" rx="2.1" ry="2.6" fill="#fff" stroke="#1c1c1c" stroke-width="1"/><rect x="13.2" y="5.5" width="8.6" height="3.6" rx="1.8" fill="#fff" stroke="#1c1c1c" stroke-width="1"/></g>
<g transform="matrix(1,-0.5774,0,1,1619.3,643.8)"><rect x="0" y="0" width="22.8" height="15.2" rx="2.4" ry="2.4" fill="#f7f7f7" stroke="#1c1c1c" stroke-width="1.15"/><path d="M22.0,2.6 L4.3,2.6 Q3.3,2.6 3.3,3.6 L3.3,11.6 Q3.3,12.6 4.3,12.6 L22.0,12.6" fill="none" stroke="#1c1c1c" stroke-width="1"/><ellipse cx="7.5" cy="7.3" rx="2.1" ry="2.6" fill="#fff" stroke="#1c1c1c" stroke-width="1"/><rect x="13.2" y="5.5" width="8.6" height="3.6" rx="1.8" fill="#fff" stroke="#1c1c1c" stroke-width="1"/></g>
<g transform="matrix(1,-0.5774,0,1,1696.9,599.8)"><rect x="0" y="0" width="22.8" height="15.2" rx="2.4" ry="2.4" fill="#f7f7f7" stroke="#1c1c1c" stroke-width="1.15"/><path d="M22.0,2.6 L4.3,2.6 Q3.3,2.6 3.3,3.6 L3.3,11.6 Q3.3,12.6 4.3,12.6 L22.0,12.6" fill="none" stroke="#1c1c1c" stroke-width="1"/><ellipse cx="7.5" cy="7.3" rx="2.1" ry="2.6" fill="#fff" stroke="#1c1c1c" stroke-width="1"/><rect x="13.2" y="5.5" width="8.6" height="3.6" rx="1.8" fill="#fff" stroke="#1c1c1c" stroke-width="1"/></g>
<line x1="1402.4" y1="618.8" x2="1402.4" y2="867.5" stroke="#1c1c1c" stroke-width="1.2" />
<line x1="1412.4" y1="623.8" x2="1412.4" y2="873.9" stroke="#1c1c1c" stroke-width="1.2" />
<line x1="1257.7" y1="616.9" x2="1295.4" y2="639.1" stroke="#1e1e1e" stroke-width="1.1" stroke-dasharray="1.15 1.2"/>
<line x1="1433.2" y1="516.5" x2="1469.9" y2="540.9" stroke="#1e1e1e" stroke-width="1.1" stroke-dasharray="1.15 1.2"/>
<line x1="1514.2" y1="471" x2="1551.9" y2="493.2" stroke="#1e1e1e" stroke-width="1.1" stroke-dasharray="1.15 1.2"/>
<g transform="translate(1322.8,653.9) rotate(-151.6) scale(0.842)"><path d="M3,-4.5 L29,-3.8 L36.5,-1.5 Q37.3,0 36.5,1.5 L29,3.8 L3,4.5 Z" fill="#262626"/><line x1="5.0" y1="-3.6" x2="6.2" y2="3.6" stroke="#fff" stroke-width="0.8" stroke-dasharray="1.1 1.1" opacity="0.9"/><line x1="8.1" y1="-3.5" x2="9.3" y2="3.5" stroke="#fff" stroke-width="0.8" stroke-dasharray="1.1 1.1" opacity="0.9"/><line x1="11.2" y1="-3.4" x2="12.4" y2="3.4" stroke="#fff" stroke-width="0.8" stroke-dasharray="1.1 1.1" opacity="0.9"/><line x1="14.3" y1="-3.3" x2="15.5" y2="3.3" stroke="#fff" stroke-width="0.8" stroke-dasharray="1.1 1.1" opacity="0.9"/><line x1="17.4" y1="-3.2" x2="18.6" y2="3.2" stroke="#fff" stroke-width="0.8" stroke-dasharray="1.1 1.1" opacity="0.9"/><line x1="20.5" y1="-3.1" x2="21.7" y2="3.1" stroke="#fff" stroke-width="0.8" stroke-dasharray="1.1 1.1" opacity="0.9"/><line x1="23.6" y1="-3.0" x2="24.8" y2="3.0" stroke="#fff" stroke-width="0.8" stroke-dasharray="1.1 1.1" opacity="0.9"/><line x1="26.7" y1="-2.9" x2="27.9" y2="2.9" stroke="#fff" stroke-width="0.8" stroke-dasharray="1.1 1.1" opacity="0.9"/><line x1="29.8" y1="-2.3" x2="31.0" y2="2.3" stroke="#fff" stroke-width="0.8" stroke-dasharray="1.1 1.1" opacity="0.9"/><line x1="32.9" y1="-1.0" x2="34.1" y2="1.0" stroke="#fff" stroke-width="0.8" stroke-dasharray="1.1 1.1" opacity="0.9"/><ellipse cx="0" cy="0" rx="5.2" ry="7.4" fill="#fff" stroke="#1c1c1c" stroke-width="1.3"/><ellipse cx="-0.4" cy="0" rx="3.6" ry="5.6" fill="none" stroke="#1c1c1c" stroke-width="0.6"/><path d="M-0.6,-4 L-0.6,4 M-3.2,0 L2.0,0" stroke="#1c1c1c" stroke-width="1.9"/></g>
<g transform="translate(1496.5,555.3) rotate(-151.6) scale(0.818)"><path d="M3,-4.5 L29,-3.8 L36.5,-1.5 Q37.3,0 36.5,1.5 L29,3.8 L3,4.5 Z" fill="#262626"/><line x1="5.0" y1="-3.6" x2="6.2" y2="3.6" stroke="#fff" stroke-width="0.8" stroke-dasharray="1.1 1.1" opacity="0.9"/><line x1="8.1" y1="-3.5" x2="9.3" y2="3.5" stroke="#fff" stroke-width="0.8" stroke-dasharray="1.1 1.1" opacity="0.9"/><line x1="11.2" y1="-3.4" x2="12.4" y2="3.4" stroke="#fff" stroke-width="0.8" stroke-dasharray="1.1 1.1" opacity="0.9"/><line x1="14.3" y1="-3.3" x2="15.5" y2="3.3" stroke="#fff" stroke-width="0.8" stroke-dasharray="1.1 1.1" opacity="0.9"/><line x1="17.4" y1="-3.2" x2="18.6" y2="3.2" stroke="#fff" stroke-width="0.8" stroke-dasharray="1.1 1.1" opacity="0.9"/><line x1="20.5" y1="-3.1" x2="21.7" y2="3.1" stroke="#fff" stroke-width="0.8" stroke-dasharray="1.1 1.1" opacity="0.9"/><line x1="23.6" y1="-3.0" x2="24.8" y2="3.0" stroke="#fff" stroke-width="0.8" stroke-dasharray="1.1 1.1" opacity="0.9"/><line x1="26.7" y1="-2.9" x2="27.9" y2="2.9" stroke="#fff" stroke-width="0.8" stroke-dasharray="1.1 1.1" opacity="0.9"/><line x1="29.8" y1="-2.3" x2="31.0" y2="2.3" stroke="#fff" stroke-width="0.8" stroke-dasharray="1.1 1.1" opacity="0.9"/><line x1="32.9" y1="-1.0" x2="34.1" y2="1.0" stroke="#fff" stroke-width="0.8" stroke-dasharray="1.1 1.1" opacity="0.9"/><ellipse cx="0" cy="0" rx="5.2" ry="7.4" fill="#fff" stroke="#1c1c1c" stroke-width="1.3"/><ellipse cx="-0.4" cy="0" rx="3.6" ry="5.6" fill="none" stroke="#1c1c1c" stroke-width="0.6"/><path d="M-0.6,-4 L-0.6,4 M-3.2,0 L2.0,0" stroke="#1c1c1c" stroke-width="1.9"/></g>
<g transform="translate(1578.1,507.6) rotate(-151.2) scale(0.808)"><path d="M3,-4.5 L29,-3.8 L36.5,-1.5 Q37.3,0 36.5,1.5 L29,3.8 L3,4.5 Z" fill="#262626"/><line x1="5.0" y1="-3.6" x2="6.2" y2="3.6" stroke="#fff" stroke-width="0.8" stroke-dasharray="1.1 1.1" opacity="0.9"/><line x1="8.1" y1="-3.5" x2="9.3" y2="3.5" stroke="#fff" stroke-width="0.8" stroke-dasharray="1.1 1.1" opacity="0.9"/><line x1="11.2" y1="-3.4" x2="12.4" y2="3.4" stroke="#fff" stroke-width="0.8" stroke-dasharray="1.1 1.1" opacity="0.9"/><line x1="14.3" y1="-3.3" x2="15.5" y2="3.3" stroke="#fff" stroke-width="0.8" stroke-dasharray="1.1 1.1" opacity="0.9"/><line x1="17.4" y1="-3.2" x2="18.6" y2="3.2" stroke="#fff" stroke-width="0.8" stroke-dasharray="1.1 1.1" opacity="0.9"/><line x1="20.5" y1="-3.1" x2="21.7" y2="3.1" stroke="#fff" stroke-width="0.8" stroke-dasharray="1.1 1.1" opacity="0.9"/><line x1="23.6" y1="-3.0" x2="24.8" y2="3.0" stroke="#fff" stroke-width="0.8" stroke-dasharray="1.1 1.1" opacity="0.9"/><line x1="26.7" y1="-2.9" x2="27.9" y2="2.9" stroke="#fff" stroke-width="0.8" stroke-dasharray="1.1 1.1" opacity="0.9"/><line x1="29.8" y1="-2.3" x2="31.0" y2="2.3" stroke="#fff" stroke-width="0.8" stroke-dasharray="1.1 1.1" opacity="0.9"/><line x1="32.9" y1="-1.0" x2="34.1" y2="1.0" stroke="#fff" stroke-width="0.8" stroke-dasharray="1.1 1.1" opacity="0.9"/><ellipse cx="0" cy="0" rx="5.2" ry="7.4" fill="#fff" stroke="#1c1c1c" stroke-width="1.3"/><ellipse cx="-0.4" cy="0" rx="3.6" ry="5.6" fill="none" stroke="#1c1c1c" stroke-width="0.6"/><path d="M-0.6,-4 L-0.6,4 M-3.2,0 L2.0,0" stroke="#1c1c1c" stroke-width="1.9"/></g>
<path d="M1257.5,615.5 L1271,619 L1265,626 Z" fill="#1c1c1c"/>
<path d="M1433,515 L1446.5,518.5 L1440.5,525.5 Z" fill="#1c1c1c"/>
<path d="M1514,469.5 L1527.5,473 L1521.5,480 Z" fill="#1c1c1c"/>
<line x1="1426.8" y1="715.3" x2="1446.5" y2="727" stroke="#1e1e1e" stroke-width="1.1" stroke-dasharray="1.15 1.2"/>
<line x1="1597" y1="615" x2="1617.7" y2="626.7" stroke="#1e1e1e" stroke-width="1.1" stroke-dasharray="1.15 1.2"/>
<line x1="1681.1" y1="566.4" x2="1701.9" y2="578.8" stroke="#1e1e1e" stroke-width="1.1" stroke-dasharray="1.15 1.2"/>
<g transform="translate(1399.8,701.3) rotate(27.4) scale(0.822)"><path d="M1.2,-7.1 L6.5,-3.6 L6.5,3.6 L1.2,7.1 Z" fill="#fff" stroke="#1c1c1c" stroke-width="1.2" stroke-linejoin="round"/><path d="M6,-3.6 L26,-2.9 L37,0 L26,2.9 L6,3.6 Z" fill="#262626"/><line x1="7.0" y1="-2.6" x2="8.2" y2="2.6" stroke="#fff" stroke-width="0.8" stroke-dasharray="1.1 1.1" opacity="0.9"/><line x1="10.1" y1="-2.5" x2="11.3" y2="2.5" stroke="#fff" stroke-width="0.8" stroke-dasharray="1.1 1.1" opacity="0.9"/><line x1="13.2" y1="-2.4" x2="14.4" y2="2.4" stroke="#fff" stroke-width="0.8" stroke-dasharray="1.1 1.1" opacity="0.9"/><line x1="16.3" y1="-2.3" x2="17.5" y2="2.3" stroke="#fff" stroke-width="0.8" stroke-dasharray="1.1 1.1" opacity="0.9"/><line x1="19.4" y1="-2.2" x2="20.6" y2="2.2" stroke="#fff" stroke-width="0.8" stroke-dasharray="1.1 1.1" opacity="0.9"/><line x1="22.5" y1="-2.1" x2="23.7" y2="2.1" stroke="#fff" stroke-width="0.8" stroke-dasharray="1.1 1.1" opacity="0.9"/><line x1="25.6" y1="-1.9" x2="26.8" y2="1.9" stroke="#fff" stroke-width="0.8" stroke-dasharray="1.1 1.1" opacity="0.9"/><line x1="28.7" y1="-1.1" x2="29.9" y2="1.1" stroke="#fff" stroke-width="0.8" stroke-dasharray="1.1 1.1" opacity="0.9"/><ellipse cx="0" cy="0" rx="4.2" ry="7.3" fill="#fff" stroke="#1c1c1c" stroke-width="1.3"/></g>
<g transform="translate(1571.2,600.8) rotate(28.8) scale(0.796)"><path d="M1.2,-7.1 L6.5,-3.6 L6.5,3.6 L1.2,7.1 Z" fill="#fff" stroke="#1c1c1c" stroke-width="1.2" stroke-linejoin="round"/><path d="M6,-3.6 L26,-2.9 L37,0 L26,2.9 L6,3.6 Z" fill="#262626"/><line x1="7.0" y1="-2.6" x2="8.2" y2="2.6" stroke="#fff" stroke-width="0.8" stroke-dasharray="1.1 1.1" opacity="0.9"/><line x1="10.1" y1="-2.5" x2="11.3" y2="2.5" stroke="#fff" stroke-width="0.8" stroke-dasharray="1.1 1.1" opacity="0.9"/><line x1="13.2" y1="-2.4" x2="14.4" y2="2.4" stroke="#fff" stroke-width="0.8" stroke-dasharray="1.1 1.1" opacity="0.9"/><line x1="16.3" y1="-2.3" x2="17.5" y2="2.3" stroke="#fff" stroke-width="0.8" stroke-dasharray="1.1 1.1" opacity="0.9"/><line x1="19.4" y1="-2.2" x2="20.6" y2="2.2" stroke="#fff" stroke-width="0.8" stroke-dasharray="1.1 1.1" opacity="0.9"/><line x1="22.5" y1="-2.1" x2="23.7" y2="2.1" stroke="#fff" stroke-width="0.8" stroke-dasharray="1.1 1.1" opacity="0.9"/><line x1="25.6" y1="-1.9" x2="26.8" y2="1.9" stroke="#fff" stroke-width="0.8" stroke-dasharray="1.1 1.1" opacity="0.9"/><line x1="28.7" y1="-1.1" x2="29.9" y2="1.1" stroke="#fff" stroke-width="0.8" stroke-dasharray="1.1 1.1" opacity="0.9"/><ellipse cx="0" cy="0" rx="4.2" ry="7.3" fill="#fff" stroke="#1c1c1c" stroke-width="1.3"/></g>
<g transform="translate(1654,552.9) rotate(26.5) scale(0.818)"><path d="M1.2,-7.1 L6.5,-3.6 L6.5,3.6 L1.2,7.1 Z" fill="#fff" stroke="#1c1c1c" stroke-width="1.2" stroke-linejoin="round"/><path d="M6,-3.6 L26,-2.9 L37,0 L26,2.9 L6,3.6 Z" fill="#262626"/><line x1="7.0" y1="-2.6" x2="8.2" y2="2.6" stroke="#fff" stroke-width="0.8" stroke-dasharray="1.1 1.1" opacity="0.9"/><line x1="10.1" y1="-2.5" x2="11.3" y2="2.5" stroke="#fff" stroke-width="0.8" stroke-dasharray="1.1 1.1" opacity="0.9"/><line x1="13.2" y1="-2.4" x2="14.4" y2="2.4" stroke="#fff" stroke-width="0.8" stroke-dasharray="1.1 1.1" opacity="0.9"/><line x1="16.3" y1="-2.3" x2="17.5" y2="2.3" stroke="#fff" stroke-width="0.8" stroke-dasharray="1.1 1.1" opacity="0.9"/><line x1="19.4" y1="-2.2" x2="20.6" y2="2.2" stroke="#fff" stroke-width="0.8" stroke-dasharray="1.1 1.1" opacity="0.9"/><line x1="22.5" y1="-2.1" x2="23.7" y2="2.1" stroke="#fff" stroke-width="0.8" stroke-dasharray="1.1 1.1" opacity="0.9"/><line x1="25.6" y1="-1.9" x2="26.8" y2="1.9" stroke="#fff" stroke-width="0.8" stroke-dasharray="1.1 1.1" opacity="0.9"/><line x1="28.7" y1="-1.1" x2="29.9" y2="1.1" stroke="#fff" stroke-width="0.8" stroke-dasharray="1.1 1.1" opacity="0.9"/><ellipse cx="0" cy="0" rx="4.2" ry="7.3" fill="#fff" stroke="#1c1c1c" stroke-width="1.3"/></g>
</svg>
<div class="num" id="n5" style="left:114px;top:176px;transform:scaleX(1.08);">5</div>
<div class="num" id="n6" style="left:1041px;top:176px;transform:scaleX(1.22);">6</div>
<div class="ttl" id="t5" style="left:215px;top:195px;transform:scaleX(1.137);">Установка на выдвижной ящик</div>
<div class="ttl" id="t6" style="left:1142px;top:195px;transform:scaleX(1.127);">Установка в мебельный короб</div>
<div class="note" id="nt1" style="left:164px;top:842.7px;transform:scaleX(1.167);">*желательно установить направляющие посередине</div>
<div class="note" id="nt2" style="left:169.3px;top:873.5px;transform:scaleX(1.172);">боковых стенок выдвижного ящика</div>
</body></html>
